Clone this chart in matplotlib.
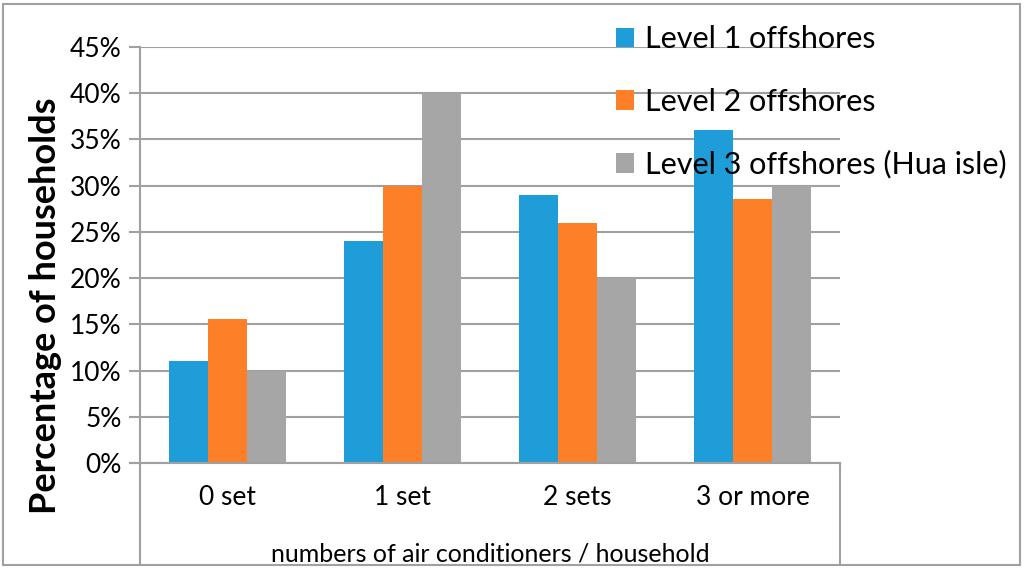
import numpy as np
import matplotlib.pyplot as plt
from matplotlib.patches import Patch, Rectangle
from matplotlib.lines import Line2D

# chart data
categories = ["0 set", "1 set", "2 sets", "3 or more"]
series_names = ["Level 1 offshores", "Level 2 offshores", "Level 3 offshores (Hua isle)"]
level1 = [11.0, 24.0, 29.0, 36.0]
level2 = [15.6, 30.0, 26.0, 28.6]
level3 = [10.0, 40.0, 20.0, 30.0]
yticks = [0, 5, 10, 15, 20, 25, 30, 35, 40, 45]

colors = ["#1e9dd9", "#fd7f27", "#a6a6a6"]
grid_col = "#a0a0a0"

plt.rcParams['font.family'] = ['Lato', 'DejaVu Sans']

W, H = 1024, 568
fig = plt.figure(figsize=(W / 100, H / 100), dpi=100)

def fx(px):
    return px / W

def fy(py):
    return 1 - py / H

# plot area: x 140..840, y 47..463 (pixels)
ax_w = fx(840) - fx(140)
ax = fig.add_axes([fx(140), fy(463), ax_w, fy(47) - fy(463)])

x = np.arange(len(categories))
bw = 0.223
for i, vals in enumerate([level1, level2, level3]):
    ax.bar(x + (i - 1) * bw, vals, width=bw, color=colors[i], zorder=3,
           label=series_names[i])

ax.set_xlim(-0.5, len(categories) - 0.5)
ax.set_ylim(0, 45)
ax.set_yticks(yticks)
ax.set_yticklabels([f"{t}%" for t in yticks], fontsize=19)
ax.set_xticks(x)
ax.set_xticklabels(categories, fontsize=19)
ax.yaxis.grid(True, color=grid_col, linewidth=1.5, zorder=0)
ax.set_axisbelow(True)
ax.tick_params(axis='y', length=8, width=1.5, color=grid_col, pad=5)
ax.tick_params(axis='x', length=0, pad=16)
for s in ["top", "right", "bottom", "left"]:
    ax.spines[s].set_visible(False)

ax.set_ylabel("Percentage of households", fontsize=26, fontweight='bold')
ax.yaxis.set_label_coords((fx(62) - fx(140)) / ax_w, 0.377)
ax.set_xlabel("numbers of air conditioners / household", fontsize=18, labelpad=23)

# axis frame lines, as in the spreadsheet chart
lw = 1.5
fig.add_artist(Line2D([fx(140), fx(140)], [fy(47), fy(565)], color=grid_col, lw=lw))
fig.add_artist(Line2D([fx(132), fx(840)], [fy(463), fy(463)], color=grid_col, lw=lw))
fig.add_artist(Line2D([fx(840), fx(840)], [fy(463), fy(565)], color=grid_col, lw=lw))

# outer chart border
fig.add_artist(Rectangle((fx(3), fy(565)), fx(1020) - fx(3), fy(4) - fy(565),
                         fill=False, edgecolor=grid_col, lw=lw))

handles = [Patch(facecolor=c, edgecolor='none') for c in colors]
leg = ax.legend(handles, series_names, loc='upper left',
                bbox_to_anchor=(fx(610), fy(19)), bbox_transform=fig.transFigure,
                frameon=False, fontsize=22, handlelength=0.6, handleheight=0.6,
                handletextpad=0.33, labelspacing=1.13, borderpad=0.2,
                borderaxespad=0)
leg.set_zorder(5)

fig.savefig("out.png", dpi=100)
